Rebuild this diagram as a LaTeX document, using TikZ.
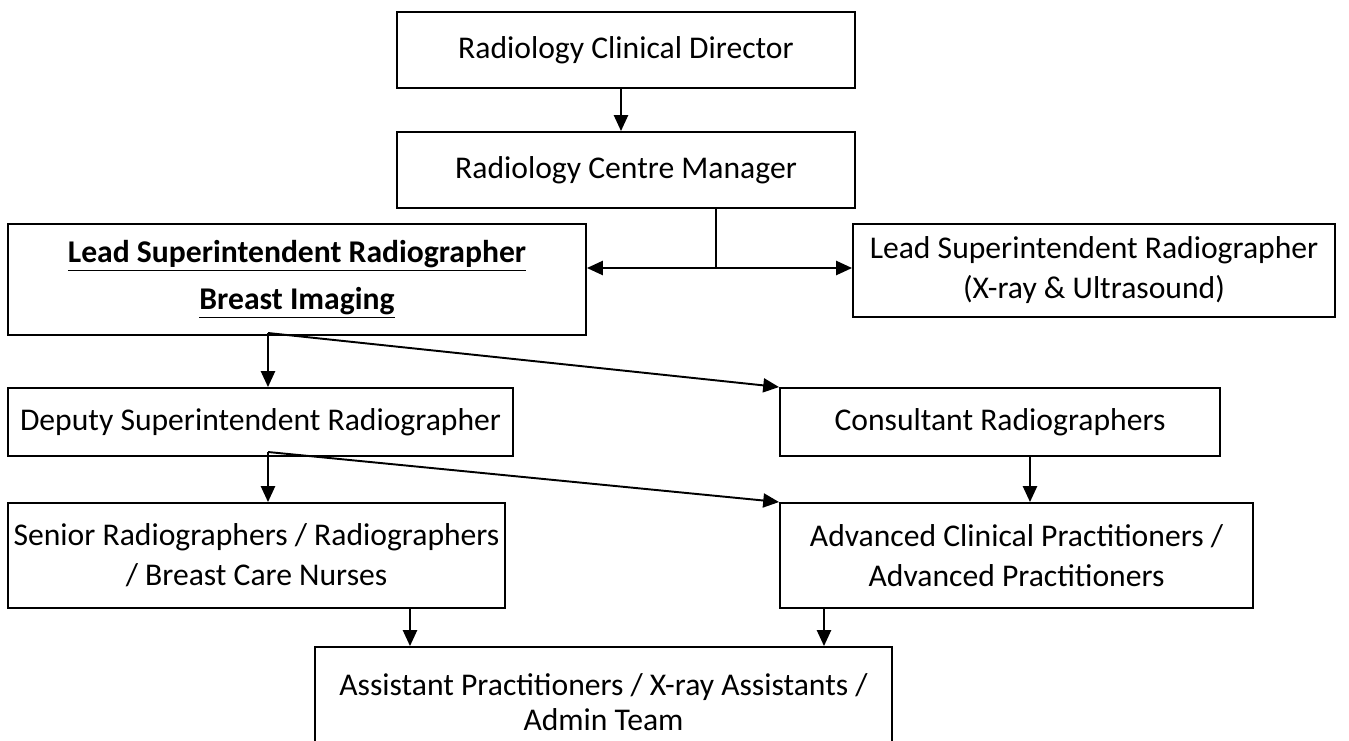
\documentclass[tikz,border=0pt]{standalone}
\usepackage{fontspec}
\setmainfont{Carlito}
\usetikzlibrary{arrows.meta, calc}

\begin{document}
\begin{tikzpicture}[
    post/.style={draw, line width=1.1pt, align=center, inner sep=0pt,
        font=\fontsize{18}{22.7}\selectfont},
    link/.style={line width=1.1pt, -{Triangle[length=9pt, width=8pt]}},
  ]
    \useasboundingbox (0, 0) rectangle (26.98, -14.8);
    % Top of the chart
    \node[post, minimum width=9.16cm, minimum height=1.52cm] (director) at (12.52, -1.00) {Radiology Clinical Director};
    \node[post, minimum width=9.16cm, minimum height=1.52cm] (manager) at (12.52, -3.40) {Radiology Centre Manager};
    \node[post, minimum width=11.56cm, minimum height=2.22cm, font=\fontsize{18}{26.6}\selectfont\bfseries] (leadbreast) at (5.94, -5.59)
        {\underline{Lead Superintendent Radiographer}\\\underline{Breast Imaging}};
    \node[post, minimum width=9.64cm, minimum height=1.86cm] (leadxray) at (21.88, -5.41)
        {Lead Superintendent Radiographer\\(X-ray \& Ultrasound)};
    % Middle rows
    \node[post, minimum width=10.10cm, minimum height=1.36cm] (deputy) at (5.21, -8.44) {Deputy Superintendent Radiographer};
    \node[post, minimum width=8.80cm, minimum height=1.36cm] (consultant) at (20.00, -8.44) {Consultant Radiographers};
    \node[post, minimum width=9.94cm, minimum height=2.10cm] (senior) at (5.13, -11.11)
        {Senior Radiographers / Radiographers\\/ Breast Care Nurses};
    \node[post, minimum width=9.46cm, minimum height=2.10cm] (advanced) at (20.33, -11.11)
        {Advanced Clinical Practitioners /\\Advanced Practitioners};
    % Bottom box, cut off by the page
    \node[post, minimum width=11.54cm, minimum height=2.20cm, font=\fontsize{18}{20}\selectfont] (assistant) at (12.07, -14.04)
        {Assistant Practitioners / X-ray Assistants /\\Admin Team};
    % Connectors
    \coordinate (split) at (14.32, -5.36);
    \coordinate (forkA) at (5.36, -6.66);
    \coordinate (forkB) at (5.36, -9.04);
    \draw[link] (director.south -| 12.42, 0) -- (manager.north -| 12.42, 0);
    \draw[line width=1.1pt] (manager.south -| split) -- (split);
    \draw[link] (split) -- (split -| leadbreast.east);
    \draw[link] (split) -- (split -| leadxray.west);
    \draw[link] (forkA) -- (deputy.north -| forkA);
    \draw[link] (forkA) -- (consultant.north west);
    \draw[link] (forkB) -- (senior.north -| forkB);
    \draw[link] (forkB) -- (advanced.north west);
    \draw[link] (consultant.south -| 20.6, 0) -- (advanced.north -| 20.6, 0);
    \draw[link] (senior.south -| 8.2, 0) -- (assistant.north -| 8.2, 0);
    \draw[link] (advanced.south -| 16.48, 0) -- (assistant.north -| 16.48, 0);
\end{tikzpicture}
\end{document}
